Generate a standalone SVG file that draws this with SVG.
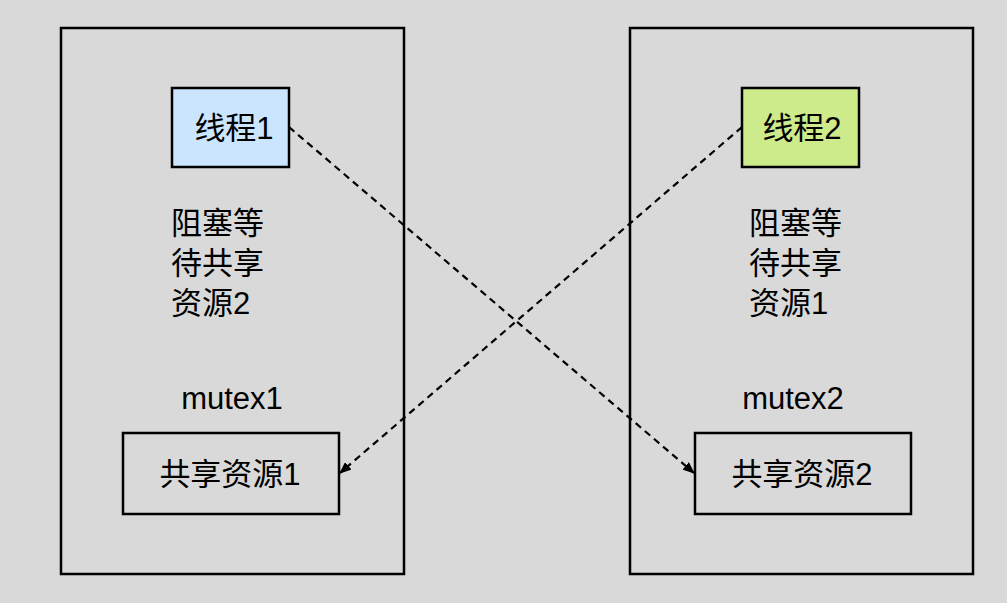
<svg xmlns="http://www.w3.org/2000/svg" width="1007" height="603" viewBox="0 0 1007 603">
<style>
.b{fill:none;stroke:#000;stroke-width:2.5}
.t{font-family:"Liberation Sans","Noto Sans CJK SC",sans-serif;font-size:31px;fill:#000}
.c{stroke:#000;stroke-width:2.2;stroke-dasharray:7,5;fill:none}
</style>
<defs><marker id="a" markerWidth="12" markerHeight="10" refX="11" refY="5" orient="auto" markerUnits="userSpaceOnUse"><path d="M0,0L12,5L0,10z" fill="#000"/></marker></defs>
<rect width="1007" height="603" fill="#d9d9d9"/>
<g id="box1"><rect class="b" x="61" y="28" width="343" height="546"/></g>
<g id="box2"><rect class="b" x="630" y="28" width="343" height="546"/></g>
<g id="t1"><rect x="172" y="88" width="117" height="79" fill="#cce5ff" stroke="#000" stroke-width="2.5"/><text class="t" x="234" y="139" text-anchor="middle">线程1</text></g>
<g id="t2"><rect x="742" y="88" width="117" height="79" fill="#cdeb8b" stroke="#000" stroke-width="2.5"/><text class="t" x="802" y="139" text-anchor="middle">线程2</text></g>
<g id="l1"><text class="t" x="171" y="234">阻塞等</text><text class="t" x="171" y="274">待共享</text><text class="t" x="171" y="314">资源2</text></g>
<g id="l2"><text class="t" x="749" y="234">阻塞等</text><text class="t" x="749" y="274">待共享</text><text class="t" x="749" y="314">资源1</text></g>
<g id="m1"><text class="t" x="232" y="409" text-anchor="middle">mutex1</text></g>
<g id="m2"><text class="t" x="793" y="409" text-anchor="middle">mutex2</text></g>
<g id="r1"><rect class="b" x="123" y="433" width="216" height="81"/><text class="t" x="230" y="485" text-anchor="middle">共享资源1</text></g>
<g id="r2"><rect class="b" x="695" y="433" width="216" height="81"/><text class="t" x="802" y="485" text-anchor="middle">共享资源2</text></g>
<g id="connectors">
<line class="c" x1="289" y1="127" x2="694" y2="473" marker-end="url(#a)"/>
<line class="c" x1="742" y1="127" x2="340" y2="473" marker-end="url(#a)"/>
</g>
</svg>
